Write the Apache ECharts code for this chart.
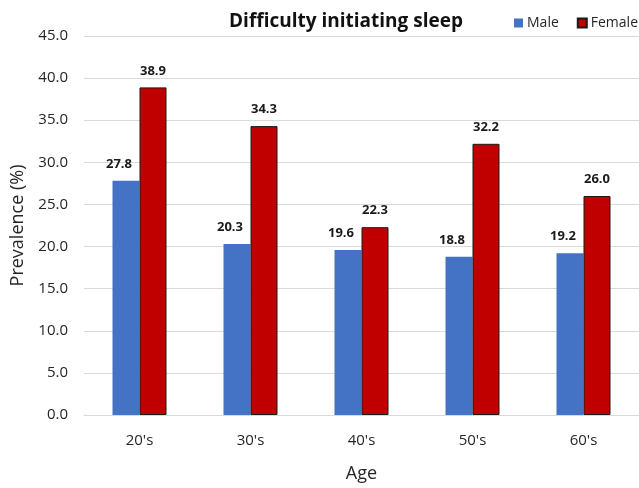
<!DOCTYPE html>
<html>
<head>
<meta charset="utf-8">
<script src="https://cdn.jsdelivr.net/npm/echarts@6/dist/echarts.min.js"></script>
<style>
  html, body { margin: 0; padding: 0; background: #fff; }
  #chart { width: 639px; height: 488px; }
</style>
</head>
<body>
<div id="chart"></div>
<script>
// Age groups on the category axis
const ageGroups = ["20's", "30's", "40's", "50's", "60's"];
// Prevalence of difficulty initiating sleep (%)
const maleValues = [27.8, 20.3, 19.6, 18.8, 19.2];
const femaleValues = [38.9, 34.3, 22.3, 32.2, 26.0];
// Value axis range
const yMin = 0, yMax = 45, yStep = 5;

const FONT = '"Open Sans", "Noto Sans", sans-serif';
const chart = echarts.init(document.getElementById('chart'));

const labelStyle = {
  show: true,
  position: 'top',
  distance: 10,
  fontFamily: FONT,
  fontSize: 13,
  fontWeight: 'bold',
  color: '#1a1a1a',
  formatter: p => p.value.toFixed(1)
};

chart.setOption({
  animation: false,
  textStyle: { fontFamily: FONT },
  title: {
    text: 'Difficulty initiating sleep',
    left: 341,
    textAlign: 'center',
    top: 7,
    textStyle: { fontFamily: FONT, fontSize: 19, fontWeight: 'bold', color: '#111' }
  },
  legend: {
    right: 1,
    top: 16,
    padding: 0,
    itemWidth: 9,
    itemHeight: 9,
    itemGap: 18,
    icon: 'rect',
    textStyle: { fontFamily: FONT, fontSize: 14, color: '#262626', padding: [0, 0, 0, -1] },
    data: ['Male', 'Female']
  },
  grid: { left: 84, right: 0, top: 36, bottom: 72.5 },
  xAxis: {
    type: 'category',
    data: ageGroups,
    name: 'Age',
    nameLocation: 'middle',
    nameGap: 50,
    nameTextStyle: { fontFamily: FONT, fontSize: 18, color: '#262626' },
    axisLine: { lineStyle: { color: '#d9d9d9', width: 1 } },
    axisTick: { show: false },
    axisLabel: { margin: 18, fontFamily: FONT, fontSize: 15, color: '#262626' }
  },
  yAxis: {
    type: 'value',
    min: yMin,
    max: yMax,
    interval: yStep,
    name: 'Prevalence (%)',
    nameLocation: 'middle',
    nameRotate: 90,
    nameGap: 57,
    nameTextStyle: { fontFamily: FONT, fontSize: 18, color: '#262626' },
    axisLine: { show: false },
    axisTick: { show: false },
    splitLine: { lineStyle: { color: '#d9d9d9', width: 1 } },
    axisLabel: {
      margin: 16,
      fontFamily: FONT,
      fontSize: 15,
      color: '#262626',
      formatter: v => v.toFixed(1)
    }
  },
  series: [
    {
      name: 'Male',
      type: 'bar',
      data: maleValues,
      barWidth: 27,
      barGap: '0%',
      itemStyle: { color: '#4472C4' },
      label: Object.assign({}, labelStyle, { offset: [-7, 0] })
    },
    {
      name: 'Female',
      type: 'bar',
      data: femaleValues,
      barWidth: 27,
      barGap: '0%',
      itemStyle: { color: '#C00000', borderColor: '#1a1a1a', borderWidth: 1 },
      label: labelStyle
    }
  ]
});
</script>
</body>
</html>
